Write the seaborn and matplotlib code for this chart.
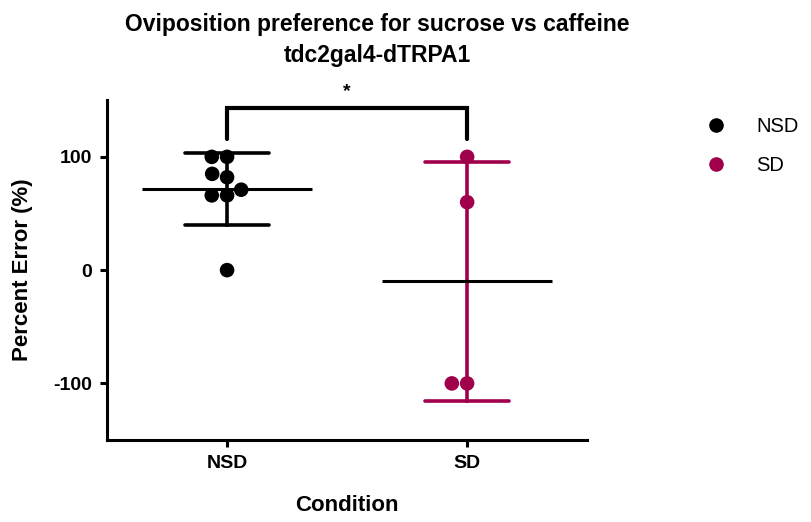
import pandas as pd
import seaborn as sns
import matplotlib.pyplot as plt
from matplotlib.lines import Line2D

# percent error values per condition
nsd_values = [100, 100, 82, 85, 66, 66, 71, 0]
sd_values = [100, 60, -100, -100]
conditions = ['NSD', 'SD']
colores = {'NSD': '#000000', 'SD': '#A0004B'}

df = pd.DataFrame({
    'Condition': ['NSD'] * len(nsd_values) + ['SD'] * len(sd_values),
    'Percent Error (%)': nsd_values + sd_values,
})

sns.set_theme(style="ticks")
plt.rcParams['font.family'] = ['Liberation Sans', 'DejaVu Sans']
plt.rcParams['text.color'] = 'black'
plt.rcParams['axes.labelcolor'] = 'black'

fig = plt.figure(figsize=(8.11, 5.22), dpi=100)
ax = fig.add_axes([0.132, 0.157, 0.592, 0.651])

# error bars (mean +- SD) in group colour
sns.pointplot(data=df, x='Condition', y='Percent Error (%)', hue='Condition',
              order=conditions, hue_order=conditions, palette=colores,
              errorbar='sd', capsize=0.35, linestyle='none', markers='',
              err_kws={'linewidth': 2.6}, legend=False, ax=ax, zorder=2)

# mean lines in black
sns.pointplot(data=df, x='Condition', y='Percent Error (%)', order=conditions,
              color='black', errorbar=None, linestyle='none', markers='_',
              markersize=123, markeredgewidth=2.2, ax=ax, zorder=3)

# individual points
sns.swarmplot(data=df, x='Condition', y='Percent Error (%)', hue='Condition',
              order=conditions, hue_order=conditions, palette=colores,
              size=10.5, linewidth=0, legend=False, ax=ax, zorder=4)

ax.set_xlim(-0.5, 1.5)
ax.set_ylim(-150, 150)
ax.set_yticks([-100, 0, 100])
ax.set_yticklabels(['-100', '0', '100'])
sns.despine(ax=ax)
for s in ['left', 'bottom']:
    ax.spines[s].set_linewidth(2.2)
    ax.spines[s].set_color('black')
ax.tick_params(axis='both', direction='out', length=5, width=2.2, colors='black',
               labelsize=14, pad=6)
for lab in ax.get_xticklabels() + ax.get_yticklabels():
    lab.set_fontweight('bold')

ax.set_xlabel('Condition', fontsize=16, fontweight='bold', labelpad=16)
ax.set_ylabel('Percent Error (%)', fontsize=16, fontweight='bold', labelpad=14)

fig.suptitle('Oviposition preference for sucrose vs caffeine\ntdc2gal4-dTRPA1',
             x=0.465, y=0.975, fontsize=16.5, fontweight='bold', linespacing=1.45)

# significance bracket
ax.plot([0, 0, 1, 1], [116, 143, 143, 116], color='black', linewidth=3,
        clip_on=False, solid_joinstyle='miter')
ax.text(0.5, 150, '*', ha='center', va='bottom', fontsize=14, fontweight='bold')

handles = [Line2D([], [], marker='o', linestyle='none', markersize=10.5,
                  markerfacecolor=colores[c], markeredgewidth=0) for c in conditions]
ax.legend(handles, conditions, loc='upper left', frameon=False,
          bbox_to_anchor=(0.848, 0.81), bbox_transform=fig.transFigure,
          fontsize=14.5, labelspacing=1.0, handletextpad=1.5, handlelength=1.0)

fig.savefig('out.png', dpi=100)
